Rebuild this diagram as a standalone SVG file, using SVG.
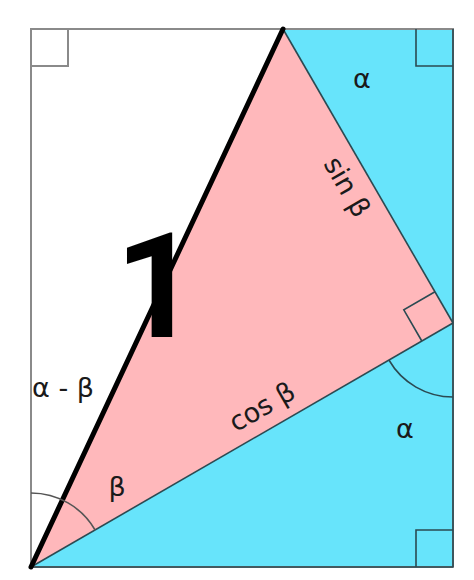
<svg xmlns="http://www.w3.org/2000/svg" width="474" height="580" viewBox="0 0 474 580">
<style>
.lbl{font-family:"DejaVu Sans","Liberation Sans",sans-serif;font-size:27px;fill:#1a1a1a}
.one{font-family:Roboto,"Liberation Sans",sans-serif;font-weight:bold;font-size:146px;fill:#000}
.edge{fill:none;stroke:#2b4a52;stroke-width:1.6}
.mark{fill:none;stroke:#2b4a52;stroke-width:1.6}
.gmark{fill:none;stroke:#8a8a8a;stroke-width:2}
</style>
<rect width="474" height="580" fill="#ffffff"/>
<g id="blue-top">
<polygon points="283,29 453,29 453,323" fill="#67e4fb"/>
</g>
<g id="blue-bottom">
<polygon points="31,567 453,323 453,567" fill="#67e4fb"/>
</g>
<g id="pink-triangle">
<polygon points="283,29 453,323 31,567" fill="#ffb8bb"/>
</g>
<g id="frame">
<rect x="31" y="29" width="422" height="538" fill="none" stroke="#8a8a8a" stroke-width="2"/>
</g>
<g id="connectors">
<line class="edge" x1="283" y1="29" x2="453" y2="323"/>
<line class="edge" x1="453" y1="323" x2="31" y2="567"/>
<line class="edge" x1="453" y1="29" x2="453" y2="567"/>
<line class="edge" x1="31" y1="567" x2="453" y2="567"/>
<line x1="31" y1="567" x2="283" y2="29" stroke="#000" stroke-width="5" stroke-linecap="round"/>
</g>
<g id="marks">
<polyline class="gmark" points="31,66 68,66 68,29"/>
<polyline class="mark" points="416,29 416,66 453,66"/>
<polyline class="mark" points="416,567 416,530 453,530"/>
<polyline class="mark" points="435,291.8 403.8,309.8 421.8,341"/>
<path class="mark" d="M388.9,360 A74,74 0 0,0 453,397"/>
<path d="M31,493 A74,74 0 0,1 95.1,530" fill="none" stroke="#555" stroke-width="1.6"/>
</g>
<g id="labels">
<text class="lbl" x="362" y="88" text-anchor="middle">α</text>
<text class="lbl" x="347" y="196" text-anchor="middle" transform="rotate(60 347 187)">sin β</text>
<text class="one" x="115" y="337">1</text>
<text class="lbl" x="32" y="397">α - β</text>
<text class="lbl" x="262" y="416" text-anchor="middle" transform="rotate(-30 262 407)">cos β</text>
<text class="lbl" x="405" y="438" text-anchor="middle">α</text>
<text class="lbl" x="117" y="496" text-anchor="middle">β</text>
</g>
</svg>
